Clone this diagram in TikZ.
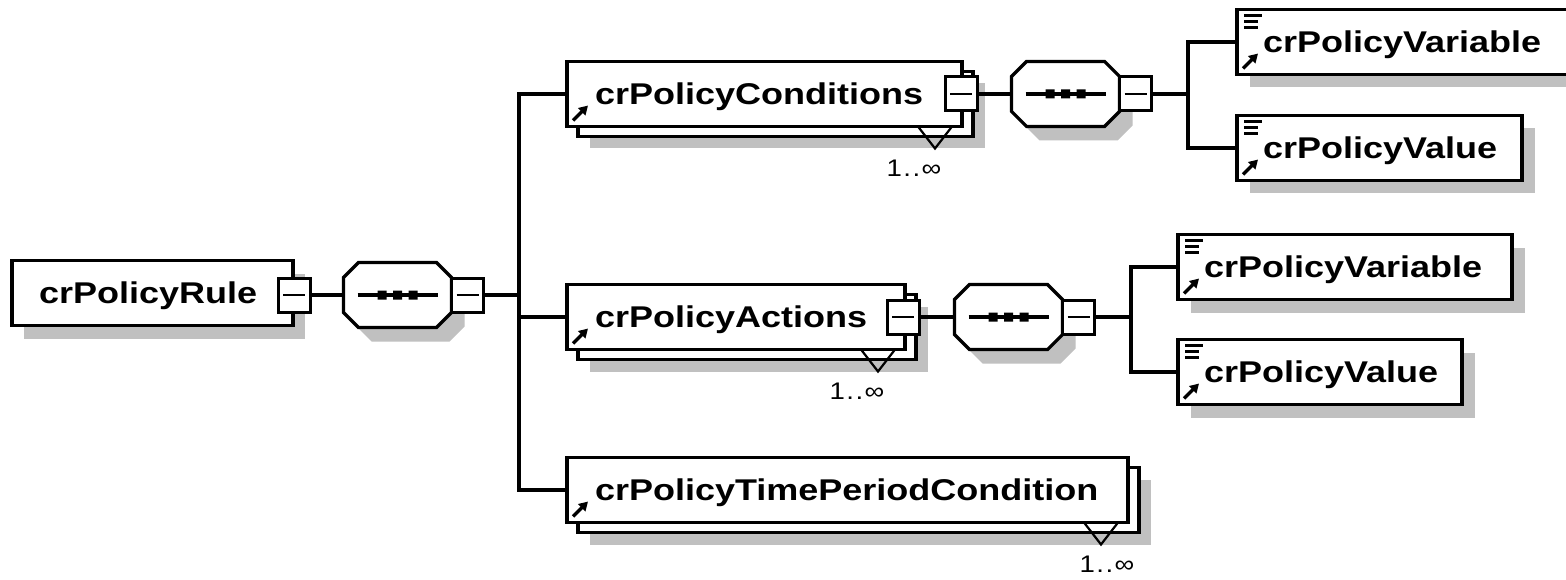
\documentclass[tikz,border=0pt]{standalone}
\usepackage{fontspec}
\setmainfont{Liberation Sans}
\newfontfamily\namefont[FakeStretch=1.2]{Liberation Sans}
\newfontfamily\countfont[FakeStretch=1.15,LetterSpace=6]{Liberation Sans}
\usetikzlibrary{arrows.meta,backgrounds}
\definecolor{shadowgray}{RGB}{192,192,192}

\tikzset{
  conn/.style={line width=3.2pt},
  box/.style={draw=black, fill=white, line width=3.2pt, rectangle,
    inner sep=0pt, outer sep=0pt, minimum height=65pt},
  minusbox/.style={draw=black, fill=white, line width=3pt, rectangle,
    inner sep=0pt, outer sep=0pt, minimum width=32pt, minimum height=34pt,
    path picture={\draw[line width=2.6pt]
      ([xshift=5pt]path picture bounding box.west) --
      ([xshift=-5pt]path picture bounding box.east);}},
  seqbox/.style={inner sep=0pt, outer sep=0pt, minimum width=108pt, minimum height=65pt},
  boxname/.style={font=\namefont\bfseries\fontsize{30}{36}\selectfont,
    inner sep=0pt, outer sep=0pt, anchor=base west},
  countlabel/.style={font=\countfont\fontsize{24}{28}\selectfont, inner sep=0pt},
  dropshade/.style={fill=shadowgray, draw=none},
  octline/.style={draw=black, fill=white, line width=3.2pt},
  icon/.style={line width=2.6pt},
}

% octagon (sequence compositor) centred at (#2,#3), path options #1
\newcommand\octagonat[3]{%
  \path[#1] ({#2-39},{#3-32.5}) -- ({#2+39},{#3-32.5}) -- ({#2+54},{#3-17.5})
    -- ({#2+54},{#3+17.5}) -- ({#2+39},{#3+32.5}) -- ({#2-39},{#3+32.5})
    -- ({#2-54},{#3+17.5}) -- ({#2-54},{#3-17.5}) -- cycle;}

% sequence compositor with its collapse box: name, cx, cy
\newcommand\seqgroup[3]{%
  \node[seqbox] (#1) at (#2,#3) {};
  \begin{pgfonlayer}{background}
    \octagonat{dropshade}{#2+13}{#3+14}
  \end{pgfonlayer}
  \octagonat{octline}{#2}{#3}
  \draw[conn] ({#2-40},#3) -- ({#2+40},#3);
  \fill ({#2-20},{#3-4.5}) rectangle ({#2-11},{#3+4.5})
        ({#2-4.5},{#3-4.5}) rectangle ({#2+4.5},{#3+4.5})
        ({#2+11},{#3-4.5}) rectangle ({#2+20},{#3+4.5});
  \node[minusbox, anchor=west] (#1-m) at (#1.east) {};
}

% reference arrow in the lower left corner: left, bottom
\newcommand\refarrow[2]{%
  \draw[line width=3.4pt, -{Triangle[length=9pt,width=10pt]}] ({#1+6},{#2-6}) -- ({#1+21},{#2-21});}

% simple-type mark in the upper left corner: left, top
\newcommand\typeicon[2]{%
  \draw[icon] ({#1+7},{#2+6}) -- ({#1+25},{#2+6})
              ({#1+7},{#2+12}) -- ({#1+21},{#2+12})
              ({#1+7},{#2+18}) -- ({#1+21},{#2+18});}

% repeated element reference: name, left, cy, width, text, label offset from right
\newcommand\stackbox[6]{%
  \begin{pgfonlayer}{background}
    \fill[dropshade] ({#2+23},{#3-32.5+22}) rectangle ({#2+#4+23},{#3+32.5+22});
  \end{pgfonlayer}
  \node[box, minimum width=#4pt, anchor=west] (#1-b) at ({#2+11},{#3+10}) {};
  \node[box, minimum width=#4pt, anchor=west] (#1) at (#2,#3) {};
  \draw[line width=2.2pt] ({#2+#4-44},{#3+32.5}) -- ({#2+#4-27},{#3+54.5}) -- ({#2+#4-10},{#3+32.5});
  \node[countlabel] (#1-n) at ({#2+#4-#6},{#3+74.5}) {1..∞};
  \node[boxname] (#1-t) at ({#2+28},{#3+10.5}) {#5};
  \refarrow{#2}{#3+32.5}
}

% leaf element reference with simple type: name, left, cy, width, text
\newcommand\leafbox[5]{%
  \begin{pgfonlayer}{background}
    \fill[dropshade] ({#2+13},{#3-32.5+13}) rectangle ({#2+#4+13},{#3+32.5+13});
  \end{pgfonlayer}
  \node[box, minimum width=#4pt, anchor=west] (#1) at (#2,#3) {};
  \node[boxname] (#1-t) at ({#2+26},{#3+10.5}) {#5};
  \typeicon{#2}{#3-32.5}
  \refarrow{#2}{#3+32.5}
}

\begin{document}
\begin{tikzpicture}[x=1pt,y=-1pt]
\useasboundingbox (0,0) rectangle (1566,580);
\begin{pgfonlayer}{background}
  \fill[white] (0,0) rectangle (1566,580);
\end{pgfonlayer}

% root element
\begin{pgfonlayer}{background}
  \fill[dropshade] (24,273.5) rectangle (305,338.5);
\end{pgfonlayer}
\node[box, minimum width=281pt, anchor=west] (rule) at (12,293) {};
\node[boxname] (rule-t) at (39,303.5) {crPolicyRule};
\node[minusbox] (rule-m) at (294,295) {};

% sequences
\seqgroup{seq1}{397.5}{295}
\seqgroup{seq2}{1065.5}{94}
\seqgroup{seq3}{1008.5}{317}

% child elements of the root sequence
\stackbox{cond}{567}{94}{395}{crPolicyConditions}{48}
\node[minusbox] (cond-m) at (961,94) {};
\stackbox{act}{567}{317}{338}{crPolicyActions}{48}
\node[minusbox] (act-m) at (903,317) {};
\stackbox{time}{567}{490}{561}{crPolicyTimePeriodCondition}{21}

% leaves
\leafbox{var1}{1237}{42}{334}{crPolicyVariable}
\leafbox{val1}{1237}{148}{285}{crPolicyValue}
\leafbox{var2}{1178}{267}{334}{crPolicyVariable}
\leafbox{val2}{1178}{372}{284}{crPolicyValue}

% branching points
\coordinate (trunk) at (519,295);
\coordinate (fork1) at (1188,94);
\coordinate (fork2) at (1131,317);

% connectors
\draw[conn] (rule-m.east) -- (seq1.west);
\draw[conn] (seq1-m.east) -- (trunk);
\draw[conn] (cond.west) -| (trunk) |- (time.west);
\draw[conn] (act.west -| trunk) -- (act.west);
\draw[conn] (cond-m.east) -- (seq2.west);
\draw[conn] (act-m.east) -- (seq3.west);
\draw[conn] (seq2-m.east) -- (fork1);
\draw[conn] (var1.west) -| (fork1) |- (val1.west);
\draw[conn] (seq3-m.east) -- (fork2);
\draw[conn] (var2.west) -| (fork2) |- (val2.west);
\end{tikzpicture}
\end{document}
